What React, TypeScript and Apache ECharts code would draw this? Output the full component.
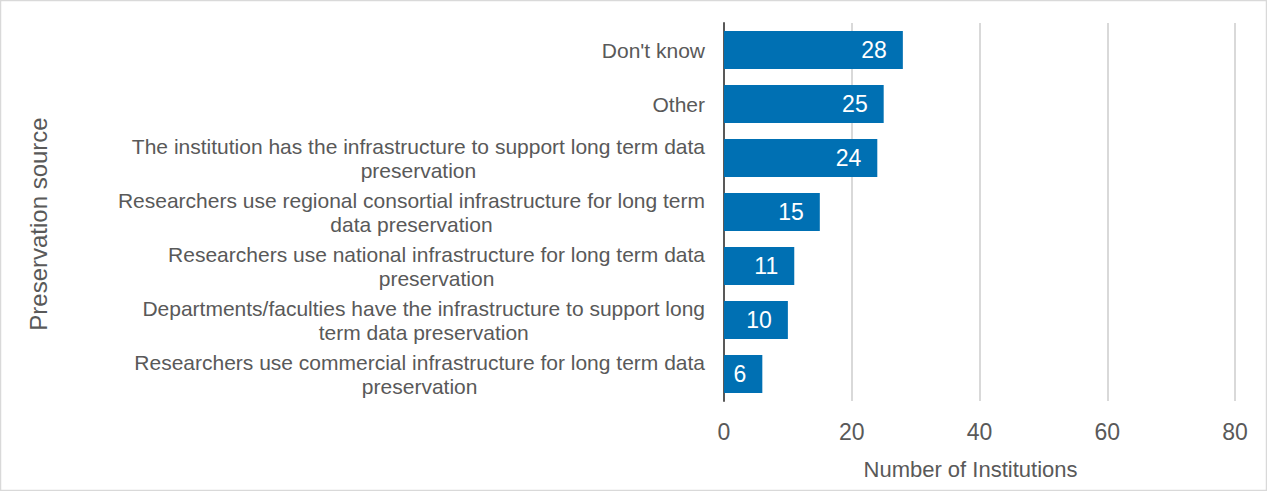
import React, { useEffect, useRef } from "react";
import * as echarts from "echarts";

const categories: string[] = [
  "Researchers use commercial infrastructure for long term data\npreservation",
  "Departments/faculties have the infrastructure to support long\nterm data preservation",
  "Researchers use national infrastructure for long term data\npreservation",
  "Researchers use regional consortial infrastructure for long term\ndata preservation",
  "The institution has the infrastructure to support long term data\npreservation",
  "Other",
  "Don't know",
];
const values: number[] = [6, 10, 11, 15, 24, 25, 28];
const xTicks: number[] = [0, 20, 40, 60, 80];
const xAxisTitle = "Number of Institutions";
const yAxisTitle = "Preservation source";

const FONT = "'Liberation Sans', Arial, sans-serif";

export default function App() {
  const ref = useRef<HTMLDivElement>(null);
  useEffect(() => {
    if (!ref.current) return;
    const chart = echarts.init(ref.current, undefined, { renderer: "svg" });
    chart.setOption({
      animation: false,
      backgroundColor: "#ffffff",
      textStyle: { fontFamily: FONT },
      graphic: [
        {
          type: "rect",
          shape: { x: 0.5, y: 0.5, width: 1266, height: 490 },
          style: { fill: "none", stroke: "#d9d9d9", lineWidth: 1.5 },
          silent: true,
        },
        {
          type: "text",
          x: 38,
          y: 224,
          rotation: Math.PI / 2,
          style: {
            text: yAxisTitle,
            fill: "#595959",
            fontSize: 24,
            fontFamily: FONT,
            textAlign: "center",
            textVerticalAlign: "middle",
          },
          silent: true,
        },
      ],
      grid: { left: 724, right: 32, top: 23, bottom: 90, containLabel: false },
      xAxis: {
        type: "value",
        min: xTicks[0],
        max: xTicks[xTicks.length - 1],
        interval: 20,
        name: xAxisTitle,
        nameLocation: "middle",
        nameGap: 57,
        nameTextStyle: { color: "#595959", fontSize: 22, fontFamily: FONT, padding: [0, 18, 0, 0] },
        axisLine: { show: false },
        axisTick: { show: false },
        axisLabel: { color: "#595959", fontSize: 23, margin: 19, fontFamily: FONT },
        splitLine: { show: true, lineStyle: { color: "#d9d9d9", width: 2 } },
      },
      yAxis: {
        type: "category",
        data: categories,
        axisLine: { show: true, lineStyle: { color: "#595959", width: 2 } },
        axisTick: { show: false },
        axisLabel: {
          color: "#595959",
          fontSize: 21,
          margin: 19,
          fontFamily: FONT,
          lineHeight: 24,
          formatter: (v: string) =>
            v
              .split("\n")
              .map((l) => "{c|" + l + "}")
              .join("\n"),
          rich: {
            c: { align: "center", fontSize: 21, lineHeight: 24, color: "#595959", fontFamily: FONT },
          },
        },
      },
      series: [
        {
          type: "bar",
          data: values,
          barCategoryGap: "30%",
          itemStyle: { color: "#0070b3" },
          label: {
            show: true,
            position: "insideRight",
            distance: 16,
            color: "#ffffff",
            fontSize: 23,
            fontFamily: FONT,
          },
        },
      ],
    });
    return () => chart.dispose();
  }, []);
  return (
    <div
      ref={ref}
      style={{ position: "fixed", left: 0, top: 0, width: 1267, height: 491 }}
    />
  );
}
